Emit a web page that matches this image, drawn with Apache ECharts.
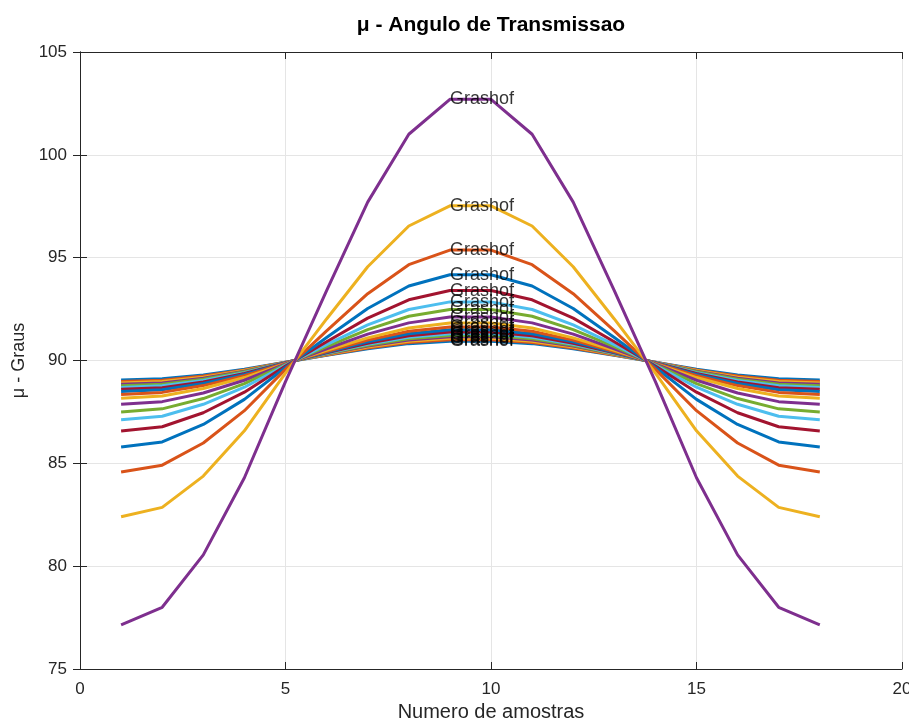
<!DOCTYPE html>
<html>
<head>
<meta charset="utf-8">
<script src="https://cdn.jsdelivr.net/npm/echarts@6/dist/echarts.min.js"></script>
<style>
  html, body { margin: 0; padding: 0; background: #fff; }
  #myChart { width: 909px; height: 722px; }
</style>
</head>
<body>
<div id="myChart"></div>
<script>
// amostras 1..18
var amostras = [1,2,3,4,5,6,7,8,9,10,11,12,13,14,15,16,17,18];
var yTicks = [75, 80, 85, 90, 95, 100, 105];
var xTicks = [0, 5, 10, 15, 20];
var cores = ['#0072BD','#D95319','#EDB120','#7E2F8E','#77AC30','#4DBEEE','#A2142F'];

// angulo de transmissao (graus), uma curva por configuracao
var mu01 = [89.05,89.11,89.30,89.57,89.92,90.25,90.57,90.82,90.94,90.94,90.82,90.57,90.25,89.92,89.57,89.30,89.11,89.05];
var mu02 = [88.98,89.04,89.25,89.54,89.92,90.27,90.61,90.88,91.01,91.01,90.88,90.61,90.27,89.92,89.54,89.25,89.04,88.98];
var mu03 = [88.91,88.98,89.19,89.51,89.91,90.29,90.65,90.94,91.08,91.08,90.94,90.65,90.29,89.91,89.51,89.19,88.98,88.91];
var mu04 = [88.84,88.91,89.14,89.48,89.91,90.31,90.70,91.00,91.15,91.15,91.00,90.70,90.31,89.91,89.48,89.14,88.91,88.84];
var mu05 = [88.77,88.84,89.09,89.45,89.90,90.33,90.74,91.06,91.22,91.22,91.06,90.74,90.33,89.90,89.45,89.09,88.84,88.77];
var mu06 = [88.69,88.77,89.03,89.41,89.90,90.35,90.79,91.13,91.30,91.30,91.13,90.79,90.35,89.90,89.41,89.03,88.77,88.69];
var mu07 = [88.60,88.68,88.96,89.37,89.89,90.37,90.84,91.20,91.39,91.39,91.20,90.84,90.37,89.89,89.37,88.96,88.68,88.60];
var mu08 = [88.49,88.58,88.88,89.32,89.88,90.40,90.91,91.30,91.50,91.50,91.30,90.91,90.40,89.88,89.32,88.88,88.58,88.49];
var mu09 = [88.35,88.45,88.78,89.26,89.87,90.44,90.99,91.42,91.63,91.63,91.42,90.99,90.44,89.87,89.26,88.78,88.45,88.35];
var mu10 = [88.16,88.27,88.64,89.17,89.85,90.49,91.10,91.58,91.82,91.82,91.58,91.10,90.49,89.85,89.17,88.64,88.27,88.16];
var mu11 = [87.87,88.00,88.42,89.04,89.83,90.57,91.28,91.83,92.11,92.11,91.83,91.28,90.57,89.83,89.04,88.42,88.00,87.87];
var mu12 = [87.50,87.65,88.15,88.88,89.80,90.67,91.50,92.15,92.48,92.48,92.15,91.50,90.67,89.80,88.88,88.15,87.65,87.50];
var mu13 = [87.12,87.29,87.87,88.70,89.77,90.77,91.73,92.48,92.85,92.85,92.48,91.73,90.77,89.77,88.70,87.87,87.29,87.12];
var mu14 = [86.57,86.78,87.46,88.46,89.73,90.91,92.06,92.95,93.40,93.40,92.95,92.06,90.91,89.73,88.46,87.46,86.78,86.57];
var mu15 = [85.79,86.04,86.89,88.11,89.66,91.12,92.53,93.62,94.17,94.17,93.62,92.53,91.12,89.66,88.11,86.89,86.04,85.79];
var mu16 = [84.58,84.91,85.99,87.56,89.57,91.44,93.25,94.66,95.37,95.37,94.66,93.25,91.44,89.57,87.56,85.99,84.91,84.58];
var mu17 = [82.40,82.86,84.38,86.58,89.39,92.02,94.56,96.54,97.52,97.52,96.54,94.56,92.02,89.39,86.58,84.38,82.86,82.40];
var mu18 = [77.14,78.00,80.55,84.30,88.97,93.40,97.70,101.00,102.70,102.70,101.00,97.70,93.40,88.97,84.30,80.55,78.00,77.14];

var curvas = [mu01,mu02,mu03,mu04,mu05,mu06,mu07,mu08,mu09,mu10,mu11,mu12,mu13,mu14,mu15,mu16,mu17,mu18];
var rotulo = 'Grashof';
var idxRotulo = 8; // amostra 9

var fonte = 'Liberation Sans';
var corEixo = '#262626';

var series = [];
curvas.forEach(function(c, i){
    series.push({
        type: 'line',
        data: amostras.map(function(a, j){ return [a, c[j]]; }),
        showSymbol: false,
        lineStyle: { width: 3, color: cores[i % cores.length] },
        itemStyle: { color: cores[i % cores.length] },
        z: 2
    });
});
// rotulos "Grashof" no pico de cada curva
series.push({
    type: 'scatter',
    symbolSize: 0.1,
    data: curvas.map(function(c){ return [amostras[idxRotulo], c[idxRotulo]]; }),
    label: {
        show: true,
        position: 'right',
        distance: 0,
        formatter: rotulo,
        color: '#000',
        fontFamily: fonte,
        fontSize: 18
    },
    z: 5
});

var echart = echarts.init(document.querySelector('#myChart'));
var option = {
    animation: false,
    backgroundColor: '#fff',
    title: {
        text: 'μ - Angulo de Transmissao',
        left: 486,
        textAlign: 'center',
        top: 10,
        textStyle: { fontFamily: fonte, fontWeight: 'bold', fontSize: 21, color: '#000' }
    },
    grid: { left: 80, right: 7, top: 52, bottom: 53, outerBoundsMode: 'none', containLabel: false },
    xAxis: [
        {
            type: 'value', min: 0, max: 20, interval: 5,
            name: 'Numero de amostras', nameLocation: 'middle', nameGap: 33,
            nameTextStyle: { fontFamily: fonte, fontSize: 20, color: corEixo },
            axisLine: { lineStyle: { color: corEixo } },
            axisTick: { inside: true, length: 7, lineStyle: { color: corEixo } },
            axisLabel: { fontFamily: fonte, fontSize: 17, color: corEixo, margin: 12,
                formatter: function(v){ return xTicks.indexOf(v) >= 0 ? v : ''; } },
            splitLine: { show: true, lineStyle: { color: '#e5e5e5' } }
        },
        {
            type: 'value', min: 0, max: 20, interval: 5, position: 'top',
            axisLine: { show: true, lineStyle: { color: corEixo } },
            axisTick: { inside: true, length: 7, lineStyle: { color: corEixo } },
            axisLabel: { show: false }, splitLine: { show: false }
        }
    ],
    yAxis: [
        {
            type: 'value', min: 75, max: 105, interval: 5,
            name: 'μ - Graus', nameLocation: 'middle', nameGap: 50,
            nameTextStyle: { fontFamily: fonte, fontSize: 18, color: corEixo },
            axisLine: { show: true, lineStyle: { color: corEixo } },
            axisTick: { show: true, inside: true, length: 7, lineStyle: { color: corEixo } },
            axisLabel: { fontFamily: fonte, fontSize: 17, color: corEixo, margin: 13,
                formatter: function(v){ return yTicks.indexOf(v) >= 0 ? v : ''; } },
            splitLine: { show: true, lineStyle: { color: '#e5e5e5' } }
        },
        {
            type: 'value', min: 75, max: 105, interval: 5, position: 'right',
            axisLine: { show: true, lineStyle: { color: corEixo } },
            axisTick: { show: true, inside: true, length: 7, lineStyle: { color: corEixo } },
            axisLabel: { show: false }, splitLine: { show: false }
        }
    ],
    series: series
};
echart.setOption(option);
</script>
</body>
</html>
